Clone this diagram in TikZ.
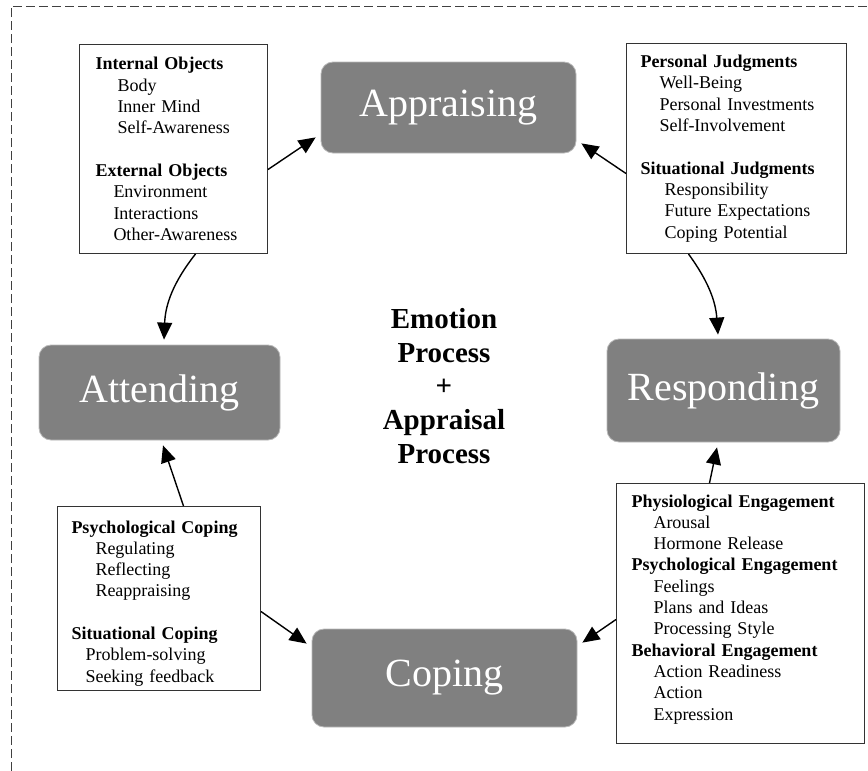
\documentclass[tikz,border=0pt]{standalone}
\usepackage{fontspec}
\setmainfont{Liberation Serif}
\usetikzlibrary{arrows.meta}

\begin{document}
\begin{tikzpicture}[x=1pt, y=-1pt,
  stage/.style={rounded corners=12pt, fill=gray, draw=gray!55, line width=0.8pt,
    text=white, inner sep=0pt, font=\fontsize{40}{48}\selectfont},
  listbox/.style={draw=black!80, line width=1pt, fill=white, anchor=north west,
    align=left, inner ysep=0pt, font=\fontsize{18}{21.3}\selectfont},
  flow/.style={line width=1.4pt, -{Triangle[length=17pt,width=15pt]}}]

  \useasboundingbox (0,0) rectangle (868,771);
  \draw[dash pattern=on 9pt off 4pt, black!75, line width=1pt] (11,771) -- (11,6) -- (868,6);

  % the four stages
  \node[stage, minimum width=255pt, minimum height=91pt] (app) at (448.5,107.5) {Appraising};
  \node[stage, minimum width=241pt, minimum height=95pt] (att) at (159.5,392.5) {Attending};
  \node[stage, minimum width=233pt, minimum height=103pt] (resp) at (723.5,390.5) {Responding};
  \node[stage, minimum width=265pt, minimum height=98pt] (cop) at (444.5,678) {Coping};

  \node[font=\bfseries\fontsize{29}{33.7}\selectfont, align=center] (core) at (444,386)
    {Emotion\\Process\\+\\Appraisal\\Process};

  % lists
  \node[listbox, inner xsep=16pt, text width=156pt, minimum height=209pt] (tl) at (79,44)
    {\textbf{Internal Objects}\\
     \hspace*{22pt}Body\\
     \hspace*{22pt}Inner Mind\\
     \hspace*{22pt}Self-Awareness\\[21.3pt]
     \textbf{External Objects}\\
     \hspace*{18pt}Environment\\
     \hspace*{18pt}Interactions\\
     \hspace*{18pt}Other-Awareness};
  \node[listbox, inner xsep=14pt, text width=192pt, minimum height=210pt] (tr) at (626,43)
    {\textbf{Personal Judgments}\\
     \hspace*{19pt}Well-Being\\
     \hspace*{19pt}Personal Investments\\
     \hspace*{19pt}Self-Involvement\\[21.3pt]
     \textbf{Situational Judgments}\\
     \hspace*{24pt}Responsibility\\
     \hspace*{24pt}Future Expectations\\
     \hspace*{24pt}Coping Potential};
  \node[listbox, inner xsep=14pt, text width=175pt, minimum height=184pt] (bl) at (57,506)
    {\rule{0pt}{22pt}\textbf{Psychological Coping}\\
     \hspace*{24pt}Regulating\\
     \hspace*{24pt}Reflecting\\
     \hspace*{24pt}Reappraising\\[21.3pt]
     \textbf{Situational Coping}\\
     \hspace*{14pt}Problem-solving\\
     \hspace*{14pt}Seeking feedback};
  \node[listbox, inner xsep=15pt, text width=218pt, minimum height=260pt] (br) at (616,483)
    {\textbf{Physiological Engagement}\\
     \hspace*{22pt}Arousal\\
     \hspace*{22pt}Hormone Release\\
     \textbf{Psychological Engagement}\\
     \hspace*{22pt}Feelings\\
     \hspace*{22pt}Plans and Ideas\\
     \hspace*{22pt}Processing Style\\
     \textbf{Behavioral Engagement}\\
     \hspace*{22pt}Action Readiness\\
     \hspace*{22pt}Action\\
     \hspace*{22pt}Expression\\[-9pt]\mbox{}};

  % cycle
  \draw[flow] ([yshift=-20.5pt]tl.east) -- ([xshift=-5pt,yshift=16pt]app.south west);
  \draw[flow] ([yshift=-25pt]tr.west) -- ([xshift=5pt,yshift=10pt]app.south east);
  \draw[flow] ([xshift=22pt]tl.south) to[bend right=18] ([xshift=4.5pt,yshift=5pt]att.north);
  \draw[flow] ([xshift=-48pt]tr.south) to[bend left=16] ([xshift=-5.5pt,yshift=4pt]resp.north);
  \draw[flow] ([xshift=-31pt]br.north) -- ([xshift=-6.5pt,yshift=-5pt]resp.south);
  \draw[flow] ([yshift=-6pt]br.west) -- ([xshift=5pt,yshift=-14pt]cop.north east);
  \draw[flow] ([yshift=-13pt]bl.east) -- ([xshift=-5pt,yshift=-15pt]cop.north west);
  \draw[flow] ([xshift=24.5pt]bl.north) -- ([xshift=3.5pt,yshift=-5pt]att.south);

\end{tikzpicture}
\end{document}
